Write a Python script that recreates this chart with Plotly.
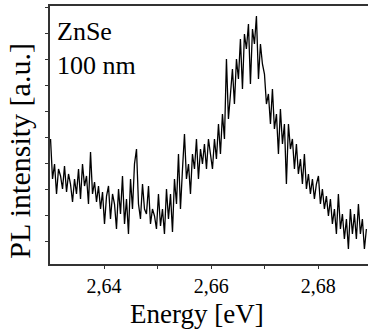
import numpy as np
import plotly.graph_objects as go

# Energy grid (eV), evenly sampled spectrum
energy = np.round(np.linspace(2.6300, 2.6890, 159), 5)

# PL intensity (a.u.)
intensity = [
    125, 85, 100, 70, 95, 88, 75, 98, 72, 90,
    80, 62, 85, 70, 95, 65, 100, 78, 88, 60,
    112, 70, 82, 62, 78, 55, 72, 40, 68, 78,
    45, 70, 60, 35, 75, 50, 88, 40, 65, 30,
    85, 55, 100, 115, 60, 45, 80, 55, 50, 78,
    40, 55, 48, 35, 70, 38, 55, 30, 75, 45,
    70, 32, 85, 60, 110, 55, 95, 130, 85, 100,
    70, 110, 95, 125, 85, 115, 100, 120, 95, 125,
    110, 95, 125, 105, 140, 110, 150, 125, 205, 145,
    170, 195, 160, 205, 185, 225, 175, 230, 215, 240,
    180, 235, 220, 248, 185, 220, 200, 190, 160, 170,
    140, 175, 135, 150, 110, 155, 120, 140, 80, 140,
    115, 125, 95, 120, 90, 105, 80, 110, 75, 90,
    70, 85, 65, 80, 88, 60, 75, 55, 68, 48,
    65, 40, 55, 30, 70, 35, 50, 25, 45, 15,
    55, 30, 50, 25, 60, 30, 45, 15, 35,
]

x_tickvals = [2.64, 2.66, 2.68]
x_ticktext = ["2,64", "2,66", "2,68"]

FONT = "Liberation Serif, Times New Roman, serif"

fig = go.Figure()
fig.add_trace(go.Scatter(
    x=energy, y=intensity, mode="lines",
    line=dict(color="black", width=1.3),
    showlegend=False, hoverinfo="skip",
))

fig.update_layout(
    width=368, height=329,
    margin=dict(l=50, r=0, t=6, b=65),
    paper_bgcolor="white", plot_bgcolor="white",
    font=dict(family=FONT, color="black", size=20),
    xaxis=dict(
        range=[2.6299, 2.6893],
        tickvals=x_tickvals, ticktext=x_ticktext,
        ticks="outside", ticklen=3, tickcolor="#333",
        showline=True, linecolor="#333", linewidth=1.5, mirror=True,
        showgrid=False, zeroline=False,
        minor=dict(tickvals=[2.65, 2.67], ticks="outside", ticklen=3, tickcolor="#333"),
        tickfont=dict(family=FONT, size=20),
    ),
    yaxis=dict(
        range=[0, 258],
        tick0=23, dtick=26, showticklabels=False,
        ticks="outside", ticklen=3, tickcolor="#333",
        showline=True, linecolor="#333", linewidth=1.5,
        showgrid=False, zeroline=False,
    ),
)

# axis titles
fig.add_annotation(
    x=0.461, y=-0.192, xref="paper", yref="paper",
    xanchor="center", yanchor="middle", showarrow=False,
    text="Energy [eV]", font=dict(family=FONT, size=27, color="black"),
)
fig.add_annotation(
    x=-0.097, y=0.44, xref="paper", yref="paper",
    xanchor="center", yanchor="middle", showarrow=False, textangle=-90,
    text="PL intensity [a.u.]", font=dict(family=FONT, size=30, color="black"),
)

fig.add_annotation(
    x=0.015, y=0.965, xref="paper", yref="paper",
    xanchor="left", yanchor="top", align="left", showarrow=False,
    text="ZnSe<br>100 nm", font=dict(family=FONT, size=26, color="black"),
)

fig.write_html(
    "out.html",
    config={"displayModeBar": False},
    post_script="document.body.style.margin='0';document.body.style.overflow='hidden';",
)
